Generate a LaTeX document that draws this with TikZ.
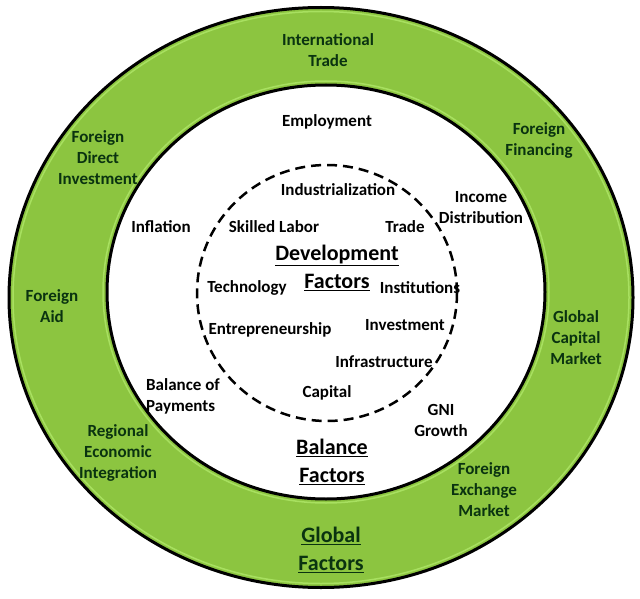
\documentclass[tikz,border=0pt]{standalone}
\usepackage{fontspec}
\setmainfont{Carlito}
\definecolor{ringgreen}{HTML}{8CC540}
\definecolor{ringedge}{HTML}{A8E060}
\definecolor{ringtext}{HTML}{0A3310}
\tikzset{
  lbl/.style={font=\bfseries\fontsize{17}{21}\selectfont, align=center, inner sep=0pt, text=black},
  ringlbl/.style={lbl, text=ringtext},
  head/.style={font=\bfseries\fontsize{22}{28}\selectfont, align=center, inner sep=0pt, text=black},
}
\begin{document}
\begin{tikzpicture}[x=1pt,y=-1pt]
\useasboundingbox (0,0) rectangle (640,599);
\fill[white] (0,0) rectangle (640,599);
% rings
\draw[line width=3pt, fill=ringgreen] (321,297.5) ellipse [x radius=312, y radius=290];
\draw[line width=1.5pt, ringedge] (321,297.5) ellipse [x radius=308, y radius=286];
\draw[line width=1.5pt, ringedge] (326,292) ellipse [x radius=223, y radius=211];
\draw[line width=3pt, fill=white] (326,292) ellipse [x radius=219, y radius=207];
\draw[line width=2.5pt, dash pattern=on 10pt off 6pt] (327,293) ellipse [x radius=130, y radius=128];
% ring labels
\node[ringlbl] (intl) at (328,50) {International\\Trade};
\node[ringlbl] (ffin) at (539,140) {Foreign\\Financing};
\node[ringlbl] (fdi) at (98,158) {Foreign\\Direct\\Investment};
\node[ringlbl] (faid) at (52,306) {Foreign\\Aid};
\node[ringlbl] (gcm) at (576,338) {Global\\Capital\\Market};
\node[ringlbl] (rei) at (118,453) {Regional\\Economic\\Integration};
\node[ringlbl] (fem) at (484,490) {Foreign\\Exchange\\Market};
\node[head, text=ringtext] (global) at (331,550) {\underline{Global}\\\underline{Factors}};
% balance factors
\node[lbl] (employ) at (327,122) {Employment};
\node[lbl] (infl) at (161,227) {Inflation};
\node[lbl] (income) at (481,208) {Income\\Distribution};
\node[lbl, align=left, anchor=west] (bop) at (146,396) {Balance of\\Payments};
\node[lbl] (gni) at (441,420) {GNI\\Growth};
\node[head] (balance) at (332,462) {\underline{Balance}\\\underline{Factors}};
% development factors
\node[lbl] (indus) at (338,190) {Industrialization};
\node[lbl] (skill) at (274,227) {Skilled Labor};
\node[lbl] (trade) at (405,227) {Trade};
\node[head] (devel) at (337,268) {\underline{Development}\\\underline{Factors}};
\node[lbl] (tech) at (247,288) {Technology};
\node[lbl] (inst) at (420,288) {Institutions};
\node[lbl] (entre) at (270,330) {Entrepreneurship};
\node[lbl] (invest) at (405,325) {Investment};
\node[lbl] (infra) at (384,362) {Infrastructure};
\node[lbl] (capital) at (327,393) {Capital};
\end{tikzpicture}
\end{document}
